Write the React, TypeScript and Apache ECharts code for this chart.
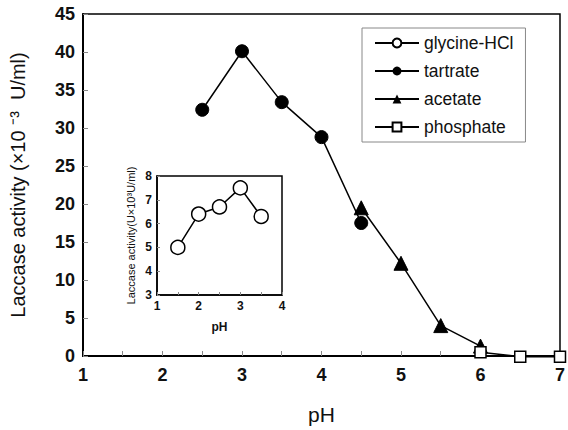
import React, { useEffect, useRef } from "react";
import * as echarts from "echarts";

const tartrate: [number, number][] = [[2.5, 32.4], [3, 40.1], [3.5, 33.4], [4, 28.8], [4.5, 17.5]];
const acetate: [number, number][] = [[4.5, 19.5], [5, 12.2], [5.5, 4.0], [6, 1.3]];
const phosphate: [number, number][] = [[6, 0.5], [6.5, -0.1], [7, -0.1]];
const glycine: [number, number][] = [[1.5, 5.0], [2, 6.4], [2.5, 6.7], [3, 7.5], [3.5, 6.3]];

const FONT = "Liberation Sans, Arial, sans-serif";

export default function App() {
  const ref = useRef<HTMLDivElement>(null);
  useEffect(() => {
    if (!ref.current) return;
    const chart = echarts.init(ref.current, null, { renderer: "svg" });
    const lineStyle = { color: "#000", width: 1.5 };
    chart.setOption({
      animation: false,
      backgroundColor: "#fff",
      textStyle: { fontFamily: FONT },
      legend: {
        orient: "vertical",
        left: 362,
        top: 28,
        itemWidth: 44,
        itemHeight: 11,
        itemGap: 10,
        padding: [6, 12, 6, 12],
        borderColor: "#888",
        borderWidth: 1,
        backgroundColor: "#fff",
        textStyle: { fontSize: 17.5, color: "#111", fontFamily: FONT },
        data: ["glycine-HCl", "tartrate", "acetate", "phosphate"],
      },
      grid: [
        { left: 82, top: 14, right: 5, bottom: 67, show: true, borderColor: "#000", borderWidth: 1.5, backgroundColor: "#fff" },
        { left: 157, top: 176, width: 125, height: 119, show: true, borderColor: "#000", borderWidth: 1.5, backgroundColor: "#fff", z: 3 },
      ],
      xAxis: [
        {
          gridIndex: 0, type: "value", min: 1, max: 7, interval: 1,
          name: "pH", nameLocation: "middle", nameGap: 48,
          nameTextStyle: { fontSize: 21, color: "#111", fontFamily: FONT },
          axisLine: { lineStyle: { color: "#000", width: 2 } },
          axisTick: { inside: true, length: 5, lineStyle: { color: "#888" } },
          minorTick: { show: true, splitNumber: 2, length: 5, lineStyle: { color: "#888" } },
          splitLine: { show: false },
          axisLabel: { fontSize: 18, fontWeight: "bold", color: "#111", margin: 10, fontFamily: FONT },
        },
        {
          gridIndex: 1, type: "value", min: 1, max: 4, interval: 1,
          name: "pH", nameLocation: "middle", nameGap: 26,
          nameTextStyle: { fontSize: 12, fontWeight: "bold", color: "#111", fontFamily: FONT },
          axisLine: { lineStyle: { color: "#000", width: 1.5 } },
          axisTick: { inside: true, length: 3, lineStyle: { color: "#888" } },
          minorTick: { show: true, splitNumber: 2, length: 3, lineStyle: { color: "#888" } },
          splitLine: { show: false },
          axisLabel: { fontSize: 12, fontWeight: "bold", color: "#111", margin: 5, fontFamily: FONT },
          z: 4,
        },
      ],
      yAxis: [
        {
          gridIndex: 0, type: "value", min: 0, max: 45, interval: 5,
          name: "Laccase activity (×10 ⁻³  U/ml)", nameLocation: "middle", nameGap: 55,
          nameTextStyle: { fontSize: 20, color: "#111", fontFamily: FONT },
          axisLine: { lineStyle: { color: "#000", width: 2 } },
          axisTick: { inside: true, length: 5, lineStyle: { color: "#888" } },
          splitLine: { show: false },
          axisLabel: { fontSize: 18, fontWeight: "bold", color: "#111", margin: 8, fontFamily: FONT },
        },
        {
          gridIndex: 1, type: "value", min: 3, max: 8, interval: 1,
          name: "Laccase activity(U×10³U/ml)", nameLocation: "middle", nameGap: 21,
          nameTextStyle: { fontSize: 11, color: "#111", fontFamily: FONT },
          axisLine: { lineStyle: { color: "#000", width: 1.5 } },
          axisTick: { inside: true, length: 3, lineStyle: { color: "#888" } },
          splitLine: { show: false },
          axisLabel: { fontSize: 12, fontWeight: "bold", color: "#111", margin: 5, fontFamily: FONT },
          z: 4,
        },
      ],
      series: [
        {
          name: "glycine-HCl", type: "line", xAxisIndex: 1, yAxisIndex: 1, data: glycine,
          symbol: "circle", symbolSize: 14, clip: false, z: 5,
          itemStyle: { color: "#fff", borderColor: "#000", borderWidth: 1.5 },
          lineStyle,
        },
        {
          name: "tartrate", type: "line", xAxisIndex: 0, yAxisIndex: 0, data: tartrate,
          symbol: "circle", symbolSize: 13, clip: false,
          itemStyle: { color: "#000", borderColor: "#000" },
          lineStyle,
        },
        {
          name: "acetate", type: "line", xAxisIndex: 0, yAxisIndex: 0, data: acetate,
          symbol: "triangle", symbolSize: 14, clip: false,
          itemStyle: { color: "#000", borderColor: "#000" },
          lineStyle,
        },
        {
          name: "phosphate", type: "line", xAxisIndex: 0, yAxisIndex: 0, data: phosphate,
          symbol: "rect", symbolSize: 11, clip: false,
          itemStyle: { color: "#fff", borderColor: "#000", borderWidth: 1.5 },
          lineStyle,
        },
      ],
    });
    return () => chart.dispose();
  }, []);
  return <div ref={ref} style={{ width: 568, height: 430, position: "absolute", left: 0, top: 0 }} />;
}
